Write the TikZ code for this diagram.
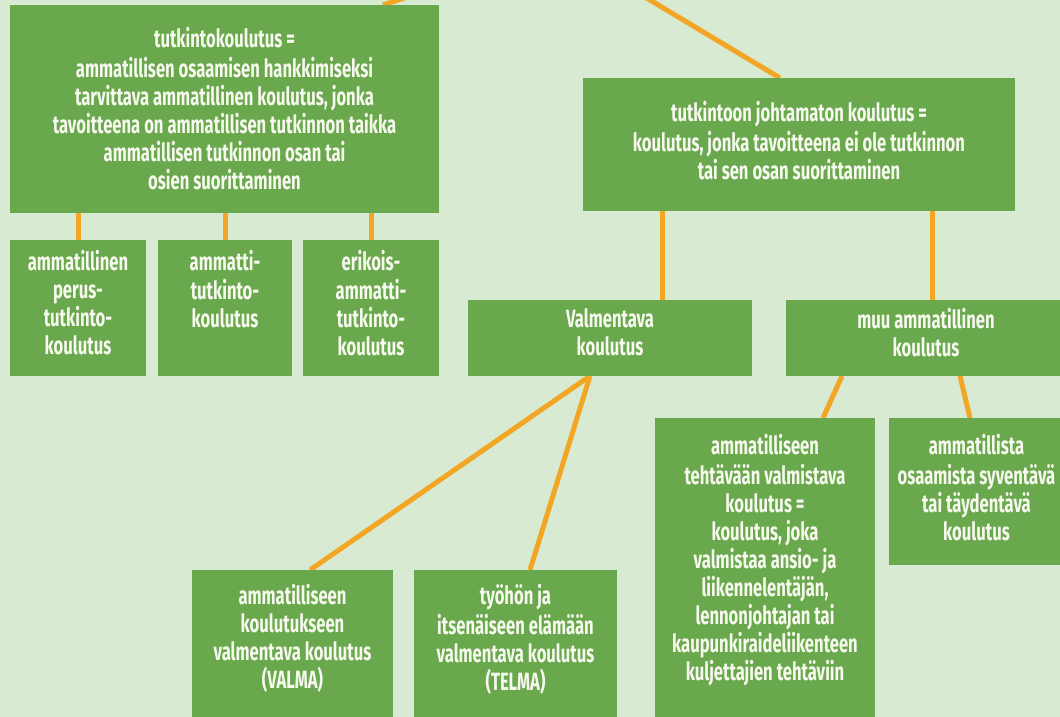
\documentclass[tikz,border=0pt]{standalone}
\usepackage{fontspec}
\setmainfont{Fira Sans}[FakeStretch=0.665]
\definecolor{bgc}{RGB}{217,234,211}
\definecolor{boxg}{RGB}{105,168,77}
\definecolor{txtc}{RGB}{247,249,238}
\definecolor{linec}{RGB}{242,166,35}
\pgfdeclarelayer{back}
\pgfdeclarelayer{lines}
\pgfsetlayers{back,lines,main}
\newcommand\boxtext[4]{\parbox[t][#2pt][t]{#1pt}{\centering\vspace*{#3pt}\strut #4}}
\begin{document}
\begin{tikzpicture}[x=1pt,y=-1pt,
  box/.style={fill=boxg, inner sep=0pt, outer sep=0pt, anchor=north west, text=txtc,
    font=\fontsize{25}{28}\selectfont\bfseries},
  link/.style={draw=linec, line width=5pt}]
\useasboundingbox (0,0) rectangle (1060,717);
\begin{pgfonlayer}{back}
\fill[bgc] (0,0) rectangle (1060,717);
\end{pgfonlayer}

\node[box] (b1) at (10,5) {\boxtext{429}{208}{22.5}{tutkintokoulutus =\\ammatillisen osaamisen hankkimiseksi\\tarvittava ammatillinen koulutus, jonka\\tavoitteena on ammatillisen tutkinnon taikka\\ammatillisen tutkinnon osan tai\\osien suorittaminen}};
\node[box] (tr) at (583,78) {\boxtext{432}{133}{23.5}{tutkintoon johtamaton koulutus =\\koulutus, jonka tavoitteena ei ole tutkinnon\\tai sen osan suorittaminen}};
\node[box] (sa) at (10,240) {\boxtext{136}{136}{10}{ammatillinen\\perus-\\tutkinto-\\koulutus}};
\node[box] (sb) at (158,240) {\boxtext{134}{136}{10}{ammatti-\\tutkinto-\\koulutus}};
\node[box] (sc) at (303,240) {\boxtext{136}{136}{10}{erikois-\\ammatti-\\tutkinto-\\koulutus}};
\node[box] (val) at (468,300) {\boxtext{284}{76}{7.5}{Valmentava\\koulutus}};
\node[box] (muu) at (786,300) {\boxtext{280}{76}{8}{muu ammatillinen\\koulutus}};
\node[box] (teht) at (655,418) {\boxtext{220}{322}{16.5}{ammatilliseen\\tehtävään valmistava\\koulutus =\\koulutus, joka\\valmistaa ansio- ja\\liikennelentäjän,\\lennonjohtajan tai\\kaupunkiraideliikenteen\\kuljettajien tehtäviin}};
\node[box] (amm) at (889,418) {\boxtext{175}{147}{16.5}{ammatillista\\osaamista syventävä\\tai täydentävä\\koulutus}};
\node[box] (valma) at (192,570) {\boxtext{201}{170}{14.5}{ammatilliseen\\koulutukseen\\valmentava koulutus\\(VALMA)}};
\node[box] (telma) at (414,570) {\boxtext{203}{170}{14.5}{työhön ja\\itsenäiseen elämään\\valmentava koulutus\\(TELMA)}};
\coordinate (parent) at (560,-54);

\begin{pgfonlayer}{lines}
\draw[link] (sa.north) -- (sa.north |- b1.south);
\draw[link] (sb.north) -- (sb.north |- b1.south);
\draw[link] (sc.north) -- (sc.north |- b1.south);
\coordinate (v1) at ([xshift=52pt]val.north);
\draw[link] (v1) -- (v1 |- tr.south);
\coordinate (m1) at ([xshift=6pt]muu.north);
\draw[link] (m1) -- (m1 |- tr.south);
\draw[link] ([xshift=-20pt]val.south) -- ([xshift=17.5pt]valma.north);
\draw[link] ([xshift=-20pt]val.south) -- ([xshift=14.5pt]telma.north);
\draw[link] ([xshift=-84pt]muu.south) -- ([xshift=58pt]teht.north);
\draw[link] ([xshift=34pt]muu.south) -- ([xshift=-6.5pt]amm.north);
\draw[link] (parent) -- ([xshift=158.5pt]b1.north);
\draw[link] (parent) -- ([xshift=-19pt]tr.north);
\end{pgfonlayer}
\end{tikzpicture}
\end{document}
